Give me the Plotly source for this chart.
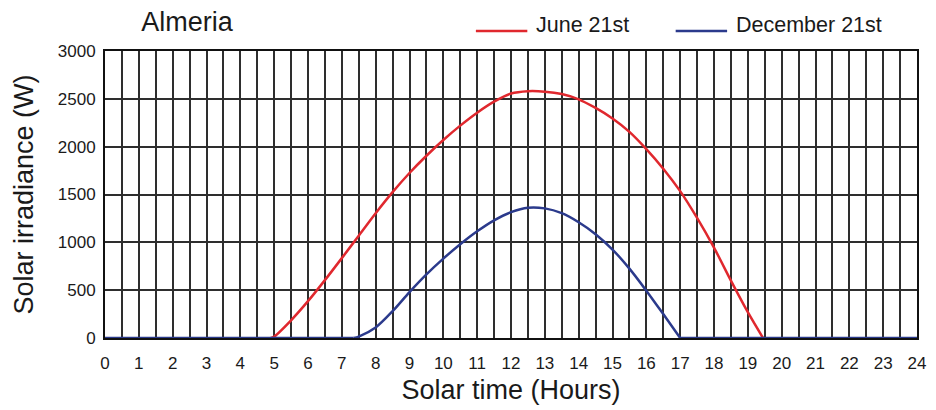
import plotly.graph_objects as go

# Solar irradiance over the day (solar time in hours, irradiance in W)
june_hours = [4.9, 5.0, 5.5, 6.0, 6.5, 7.0, 7.5, 8.0, 8.5, 9.0, 9.5, 10.0, 10.5,
              11.0, 11.5, 12.0, 12.5, 13.0, 13.5, 14.0, 14.5, 15.0, 15.5, 16.0,
              16.5, 17.0, 17.5, 18.0, 18.5, 19.0, 19.45]
june_values = [0, 15, 185, 385, 605, 835, 1070, 1305, 1525, 1725, 1905, 2070, 2220,
               2355, 2470, 2555, 2580, 2575, 2550, 2495, 2405, 2295, 2155, 1975,
               1770, 1535, 1255, 945, 600, 270, 0]

dec_hours = [0, 7.35, 7.5, 8.0, 8.5, 9.0, 9.5, 10.0, 10.5, 11.0, 11.5, 12.0, 12.5,
             13.0, 13.5, 14.0, 14.5, 15.0, 15.5, 16.0, 16.5, 17.0, 24]
dec_values = [0, 0, 15, 110, 280, 480, 665, 830, 980, 1115, 1230, 1315, 1362,
              1355, 1305, 1210, 1085, 925, 725, 495, 250, 0, 0]

series_names = ["June 21st", "December 21st"]
x_ticks = list(range(0, 25))
y_ticks = [0, 500, 1000, 1500, 2000, 2500, 3000]

RED = "#e0282e"
BLUE = "#2b3a8c"
GRID = "#2e2e2e"
TEXT = "#1a1a1a"
FONT = "Liberation Sans, Arial, sans-serif"

# plot-area geometry in pixels (used for the hand-placed legend)
W, H = 936, 410
ML, MR, MT, MB = 105, 10, 51, 72
PW, PH = W - ML - MR, H - MT - MB


def px_x(x):
    return (x - ML) / PW


def px_y(y):
    return (H - MB - y) / PH


fig = go.Figure()

fig.add_trace(go.Scatter(
    x=june_hours, y=june_values, mode="lines", name=series_names[0],
    line=dict(color=RED, width=2.5, shape="spline", smoothing=0.8),
))

# December: the daylight hump is smoothed; the night-time zero runs stay flat
pos = [i for i, v in enumerate(dec_values) if v > 0]
first, last = pos[0] - 1, pos[-1] + 1
fig.add_trace(go.Scatter(
    x=dec_hours[first:last + 1], y=dec_values[first:last + 1], mode="lines",
    name=series_names[1],
    line=dict(color=BLUE, width=2.5, shape="spline", smoothing=0.8),
))
flat_x = dec_hours[:first + 1] + [None] + dec_hours[last:]
flat_y = dec_values[:first + 1] + [None] + dec_values[last:]
fig.add_trace(go.Scatter(
    x=flat_x, y=flat_y, mode="lines", name=series_names[1],
    line=dict(color=BLUE, width=2.5), hoverinfo="skip",
))

# legend above the plot: long line sample followed by the series name
legend_items = [(series_names[0], RED, 480), (series_names[1], BLUE, 682)]
for label, color, x0 in legend_items:
    fig.add_shape(type="line", xref="paper", yref="paper",
                  x0=px_x(x0), x1=px_x(x0 + 52), y0=px_y(31), y1=px_y(31),
                  line=dict(color=color, width=2.5))
    fig.add_annotation(text=label, xref="paper", yref="paper",
                       x=px_x(x0 + 59), y=px_y(25), xanchor="left", yanchor="middle",
                       showarrow=False, font=dict(size=21.5, color=TEXT))

fig.update_layout(
    width=W, height=H,
    margin=dict(l=ML, r=MR, t=MT, b=MB),
    paper_bgcolor="white", plot_bgcolor="white",
    font=dict(family=FONT, color=TEXT, size=17),
    title=dict(text="Almeria", x=187 / W, xanchor="center", xref="container",
               y=1 - 22 / H, yanchor="middle", yref="container",
               font=dict(size=27, color=TEXT)),
    showlegend=False,
)

fig.update_xaxes(
    range=[0, 24], tickvals=x_ticks, ticktext=[str(t) for t in x_ticks],
    showgrid=True, gridcolor=GRID, gridwidth=1.5,
    minor=dict(dtick=0.5, tick0=0, showgrid=True, gridcolor=GRID, gridwidth=1.5),
    showline=True, linecolor="#111", linewidth=2, mirror=True,
    zeroline=False, ticks="", ticklabelstandoff=9, layer="below traces",
    title=dict(text="Solar time (Hours)", font=dict(size=27), standoff=8),
)
fig.update_yaxes(
    range=[0, 3000], tickvals=y_ticks,
    showgrid=True, gridcolor=GRID, gridwidth=1.5,
    showline=True, linecolor="#111", linewidth=2, mirror=True,
    zeroline=False, ticks="", ticklabelstandoff=4, layer="below traces",
    title=dict(text="Solar irradiance (W)", font=dict(size=27), standoff=16),
)

fig.write_html("out.html")
